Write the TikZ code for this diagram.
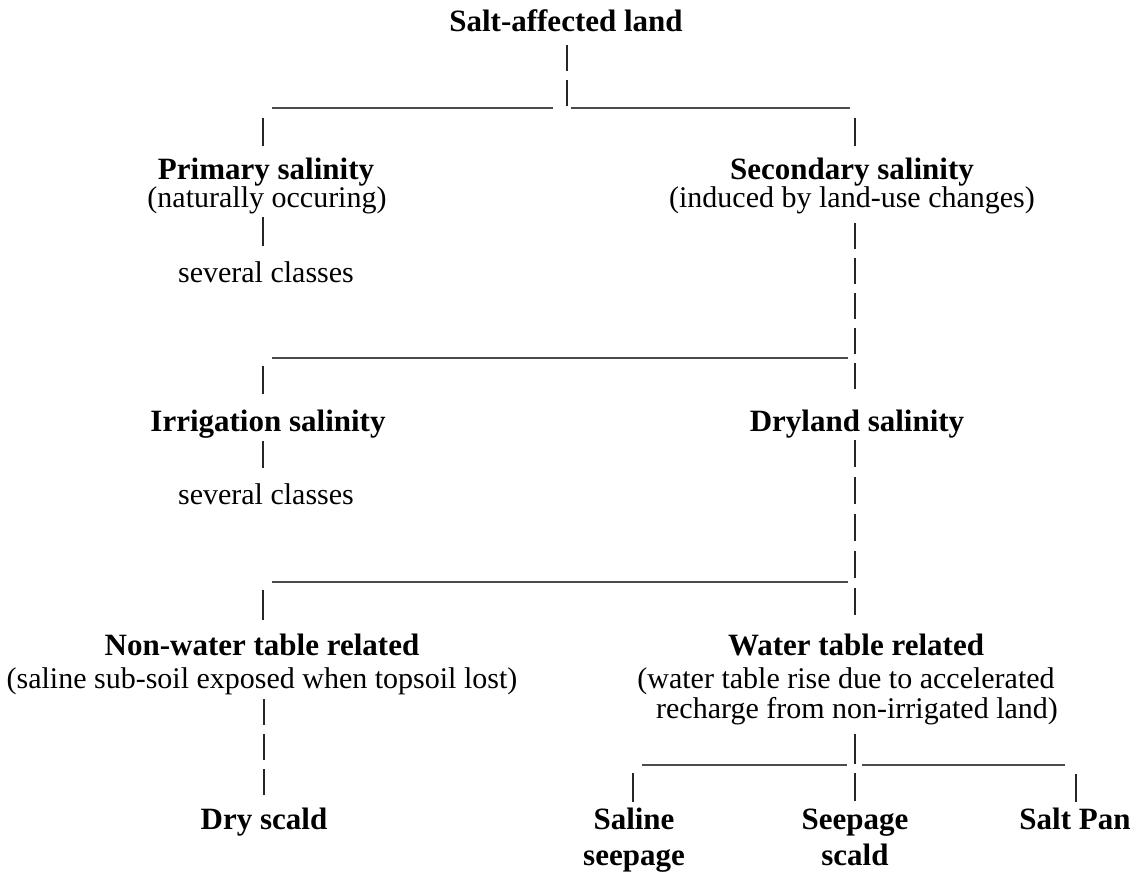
\documentclass[tikz,border=0pt]{standalone}
\usepackage{fontspec}
\setmainfont{Liberation Serif}
\tikzset{
  head/.style={font=\fontsize{31}{36}\selectfont\bfseries, anchor=base, inner sep=0pt},
  sub/.style={font=\fontsize{30}{33}\selectfont, anchor=base, inner sep=0pt},
  vbar/.style={line width=1.7pt, draw=black!85},
  vdash/.style={vbar, dash pattern=on 26pt off 9pt},
  vdashb/.style={vbar, dash pattern=on 27pt off 10pt},
  hbar/.style={line width=1.4pt, draw=black!70}
}
\begin{document}
\begin{tikzpicture}[x=1pt,y=-1pt]
\useasboundingbox (0,0) rectangle (1142,874);
% texts
\node[head] (root) at (566,32) {Salt-affected land};
\node[head] (prim) at (266,180) {Primary salinity};
\node[sub] (primsub) at (267,208) {(naturally occuring)};
\node[sub] (primcls) at (266,283) {several classes};
\node[head] (sec) at (852,180) {Secondary salinity};
\node[sub] (secsub) at (852,208) {(induced by land-use changes)};
\node[head] (irr) at (268,431) {Irrigation salinity};
\node[sub] (irrcls) at (266,504) {several classes};
\node[head] (dry) at (857,431) {Dryland salinity};
\node[head] (nwt) at (262,655) {Non-water table related};
\node[sub] (nwtsub) at (262,688) {(saline sub-soil exposed when topsoil lost)};
\node[head] (wt) at (856,655) {Water table related};
\node[sub] (wtsub1) at (846,688) {(water table rise due to accelerated};
\node[sub] (wtsub2) at (857,718) {recharge from non-irrigated land)};
\node[head] (dscald) at (264,829) {Dry scald};
\node[head] (sseep) at (634,829) {Saline};
\node[head] (sseep2) at (634,865) {seepage};
\node[head] (sscald) at (855,829) {Seepage};
\node[head] (sscald2) at (855,865) {scald};
\node[head] (span) at (1075,829) {Salt Pan};
% junction coordinates
\coordinate (r1) at (567,45);
\coordinate (r2) at (567,107);
\coordinate (h1a) at (272,108); \coordinate (h1b) at (553,108);
\coordinate (h1c) at (571,108); \coordinate (h1d) at (850,108);
\coordinate (p1) at (263,118); \coordinate (p2) at (263,146);
\coordinate (s1) at (855,118); \coordinate (s2) at (855,146);
\coordinate (p3) at (263,217); \coordinate (p4) at (263,246);
\coordinate (s3) at (855,223); \coordinate (s4) at (855,395);
\coordinate (h2a) at (272,358); \coordinate (h2b) at (848,358);
\coordinate (i1) at (263,366); \coordinate (i2) at (263,394);
\coordinate (i3) at (263,441); \coordinate (i4) at (263,468);
\coordinate (d1) at (855,440); \coordinate (d2) at (855,618);
\coordinate (h3a) at (272,582); \coordinate (h3b) at (848,582);
\coordinate (n1) at (263,590); \coordinate (n2) at (263,620);
\coordinate (n3) at (264,699); \coordinate (n4) at (264,795);
\coordinate (w1) at (855,734); \coordinate (w2) at (855,764);
\coordinate (h4a) at (642,765); \coordinate (h4b) at (847,765);
\coordinate (h4c) at (862,765); \coordinate (h4d) at (1065,765);
\coordinate (a1) at (633,773); \coordinate (a2) at (633,802);
\coordinate (b1) at (855,773); \coordinate (b2) at (855,801);
\coordinate (c1) at (1076,774); \coordinate (c2) at (1076,802);
% connectors
\draw[vdash] (r1) -- (r2);
\draw[hbar] (h1a) -- (h1b);
\draw[hbar] (h1c) -- (h1d);
\draw[vbar] (p1) -- (p2);
\draw[vbar] (s1) -- (s2);
\draw[vbar] (p3) -- (p4);
\draw[vdash] (s3) -- (s4);
\draw[hbar] (h2a) -- (h2b);
\draw[vbar] (i1) -- (i2);
\draw[vbar] (i3) -- (i4);
\draw[vdashb] (d1) -- (d2);
\draw[hbar] (h3a) -- (h3b);
\draw[vbar] (n1) -- (n2);
\draw[vdash] (n3) -- (n4);
\draw[vbar] (w1) -- (w2);
\draw[hbar] (h4a) -- (h4b);
\draw[hbar] (h4c) -- (h4d);
\draw[vbar] (a1) -- (a2);
\draw[vbar] (b1) -- (b2);
\draw[vbar] (c1) -- (c2);
\end{tikzpicture}
\end{document}
